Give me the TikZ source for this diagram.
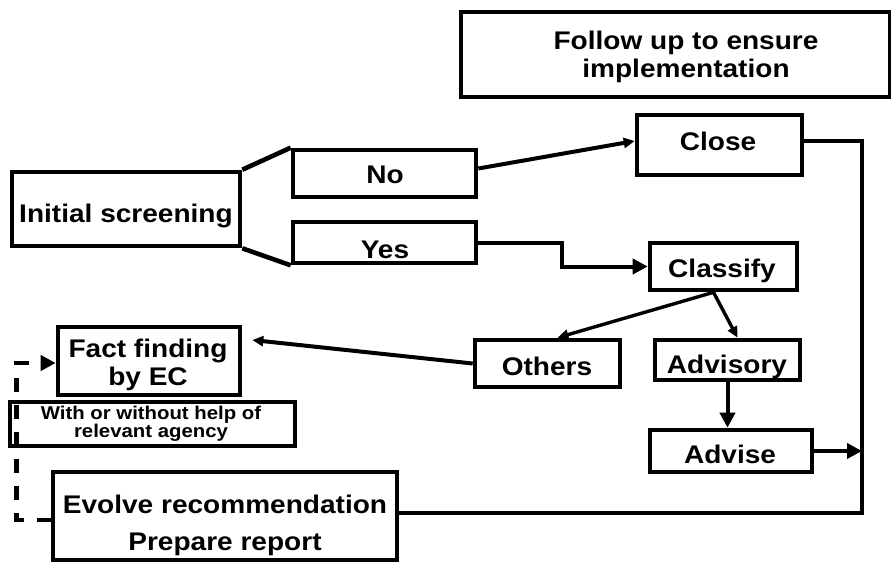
\documentclass[tikz,border=0pt]{standalone}
\usepackage{fontspec}
\setmainfont{Liberation Sans}[FakeStretch=1.1]
\usetikzlibrary{arrows.meta}
\begin{document}
\begin{tikzpicture}[x=1pt,y=-1pt,
  bx/.style 2 args={draw, line width=4.6pt, inner sep=0pt, minimum width=#1pt, minimum height=#2pt},
  lbl/.style={font=\bfseries\fontsize{25.5}{28}\selectfont, inner sep=0pt, anchor=base},
  lbltwo/.style={font=\bfseries\fontsize{25.5}{28}\selectfont, inner sep=0pt, anchor=center, align=center},
  conn/.style={line width=4pt},
  bigtip/.style={-{Triangle[length=15pt,width=15pt]}},
  thintip/.style={-{Triangle[length=11pt,width=10pt]}}]
\useasboundingbox (0,0) rectangle (891,563);

% boxes
\node[bx={429}{85}] (follow) at (675.5,54.5) {};
\node[bx={228}{74}] (init) at (126,209) {};
\node[bx={183}{47}] (no) at (384.5,173.5) {};
\node[bx={183}{41}] (yes) at (384.5,242.5) {};
\node[bx={165}{60}] (close) at (719.5,145) {};
\node[bx={147}{47}] (classify) at (723.5,266.5) {};
\node[bx={145}{47}] (others) at (547.5,363.5) {};
\node[bx={145}{40}] (advisory) at (727.5,360) {};
\node[bx={162}{42}] (advise) at (731,451) {};
\node[bx={182}{68}] (fact) at (149,361) {};
\node[bx={285}{44}] (with) at (152.5,424) {};
\node[bx={344}{88}] (evolve) at (225,516) {};

% texts
\node[lbltwo] (followT) at (686,57) {Follow up to ensure\\implementation};
\node[lbl] (initT) at (126,222) {Initial screening};
\node[lbl] (noT) at (385,183) {No};
\node[lbl] (yesT) at (385,258) {Yes};
\node[lbl] (closeT) at (718,150) {Close};
\node[lbl] (classifyT) at (722,277) {Classify};
\node[lbl] (othersT) at (547,375) {Others};
\node[lbl] (advisoryT) at (727,373) {Advisory};
\node[lbl] (adviseT) at (730,463) {Advise};
\node[lbltwo] (factT) at (148,364.5) {Fact finding\\by EC};
\node[lbltwo, font=\bfseries\fontsize{18.5}{18}\selectfont] (withT) at (151,424) {With or without help of\\relevant agency};
\node[lbltwo, font=\bfseries\fontsize{25.5}{37}\selectfont] (evolveT) at (225,525) {Evolve recommendation\\Prepare report};

% connectors
\draw[line width=4.6pt] (init.north east) -- (no.north west);
\draw[line width=4.6pt] (init.south east) -- (yes.south west);
\draw[conn, thintip] ([yshift=5pt]no.east) -- ([yshift=4pt]close.west);
\draw[conn, bigtip] (yes.east) -- ++(84,0) |- (classify.west);
\coordinate (ctop) at ([xshift=-10pt]classify.south);
\draw[line width=3.4pt, thintip] (ctop) -- ([xshift=10pt]others.north);
\draw[line width=3.4pt, thintip] (ctop) -- ([xshift=10pt]advisory.north);
\draw[conn, bigtip] (advisory.south) -- (advisory.south |- advise.north);
\coordinate (rt) at (862,141);
\coordinate (rb) at (862,513);
\draw[line width=3.4pt] ([yshift=4pt]close.east) -- (rt) -- (rb) -- (rb -| evolve.east);
\draw[conn, bigtip] (advise.east) -- (advise.east -| rb);
\draw[conn, thintip] (others.west) -- ([xshift=10pt,yshift=21pt]fact.east);
\draw[line width=4.6pt, dash pattern=on 14pt off 13pt, bigtip] ([yshift=-4pt]evolve.west) -- ++(-34,0) |- ([yshift=-2pt]fact.west);
\end{tikzpicture}
\end{document}
